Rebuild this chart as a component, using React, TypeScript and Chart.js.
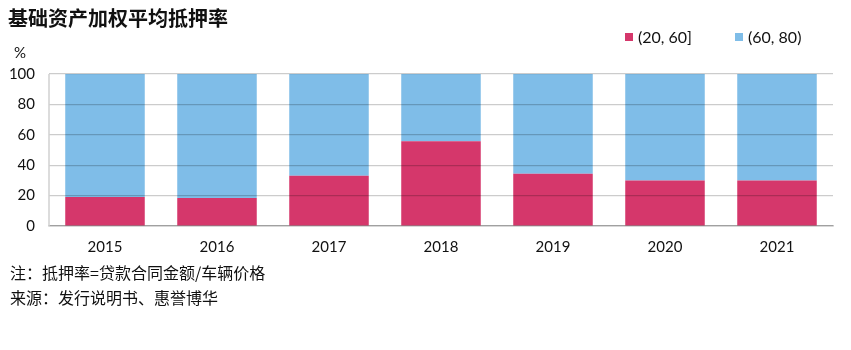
import React, { useEffect, useRef } from "react";
import { Chart, registerables } from "chart.js";

Chart.register(...registerables);

const categories = ["2015", "2016", "2017", "2018", "2019", "2020", "2021"];
const low = [19, 18.5, 33, 55.7, 34.3, 30, 30];
const high = [81, 81.5, 67, 44.3, 65.7, 70, 70];
const seriesNames = ["(20, 60]", "(60, 80)"];
const yTicks = [0, 20, 40, 60, 80, 100];

const RED = "#D5376B";
const BLUE = "#7FBDE8";
const LATIN = "Lato, 'Noto Sans CJK SC', sans-serif";
const CJK = "'Noto Sans CJK SC', sans-serif";

const leftAxisLine = {
  id: "leftAxisLine",
  afterDraw(chart: any) {
    const { ctx, chartArea } = chart;
    ctx.save();
    ctx.strokeStyle = "#d0d0d0";
    ctx.lineWidth = 1.5;
    ctx.beginPath();
    ctx.moveTo(chartArea.left, chartArea.top);
    ctx.lineTo(chartArea.left, chartArea.bottom);
    ctx.stroke();
    ctx.restore();
  },
};

export default function App() {
  const ref = useRef<HTMLCanvasElement>(null);
  useEffect(() => {
    const chart = new Chart(ref.current!, {
      type: "bar",
      data: {
        labels: categories,
        datasets: [
          { label: seriesNames[0], data: low, backgroundColor: RED, categoryPercentage: 1, barPercentage: 0.71 },
          { label: seriesNames[1], data: high, backgroundColor: BLUE, categoryPercentage: 1, barPercentage: 0.71 },
        ],
      },
      options: {
        animation: false,
        responsive: false,
        layout: { padding: { left: 0, right: 18, top: 74, bottom: 94 } },
        plugins: { legend: { display: false }, tooltip: { enabled: false }, title: { display: false } },
        scales: {
          x: {
            stacked: true,
            grid: { display: false, drawTicks: false },
            border: { display: true, color: "#c8c8c8", width: 1.5 },
            ticks: { color: "#111", font: { family: LATIN, size: 15 }, padding: 12 },
            afterFit: (s: any) => { s.height = 30; },
          },
          y: {
            stacked: true,
            min: 0,
            max: 100,
            afterBuildTicks: (s: any) => { s.ticks = yTicks.map((v) => ({ value: v })); },
            grid: { color: "rgba(0,0,0,0.2)", drawTicks: false, z: 1, lineWidth: 1.2 },
            border: { display: false },
            ticks: { color: "#111", font: { family: LATIN, size: 15 }, padding: 14 },
            afterFit: (s: any) => { s.width = 49; },
          },
        },
      },
      plugins: [leftAxisLine],
    });
    return () => chart.destroy();
  }, []);

  const sq = (c: string) => ({
    display: "inline-block",
    width: 8,
    height: 8,
    background: c,
    marginRight: 5,
  });

  return (
    <div style={{ position: "absolute", left: 0, top: 0, width: 851, height: 350, background: "#fff" }}>
      <canvas ref={ref} width={851} height={350} style={{ position: "absolute", left: 0, top: 0 }} />
      <div style={{ position: "absolute", left: 8, top: 4, fontFamily: CJK, fontWeight: 700, fontSize: 20, lineHeight: "28px", color: "#111" }}>
        基础资产加权平均抵押率
      </div>
      <div style={{ position: "absolute", left: 14, top: 42, fontFamily: LATIN, fontSize: 15, lineHeight: "20px", color: "#111" }}>%</div>
      <div style={{ position: "absolute", left: 625, top: 26, fontFamily: LATIN, fontSize: 16, lineHeight: "22px", color: "#111", display: "flex", alignItems: "center" }}>
        <span style={sq(RED)} />
        <span>{seriesNames[0]}</span>
        <span style={{ width: 43 }} />
        <span style={sq(BLUE)} />
        <span>{seriesNames[1]}</span>
      </div>
      <div style={{ position: "absolute", left: 10, top: 260, fontFamily: CJK, fontSize: 16, lineHeight: "25px", color: "#111" }}>
        <div>注：抵押率=贷款合同金额/车辆价格</div>
        <div>来源：发行说明书、惠誉博华</div>
      </div>
    </div>
  );
}
